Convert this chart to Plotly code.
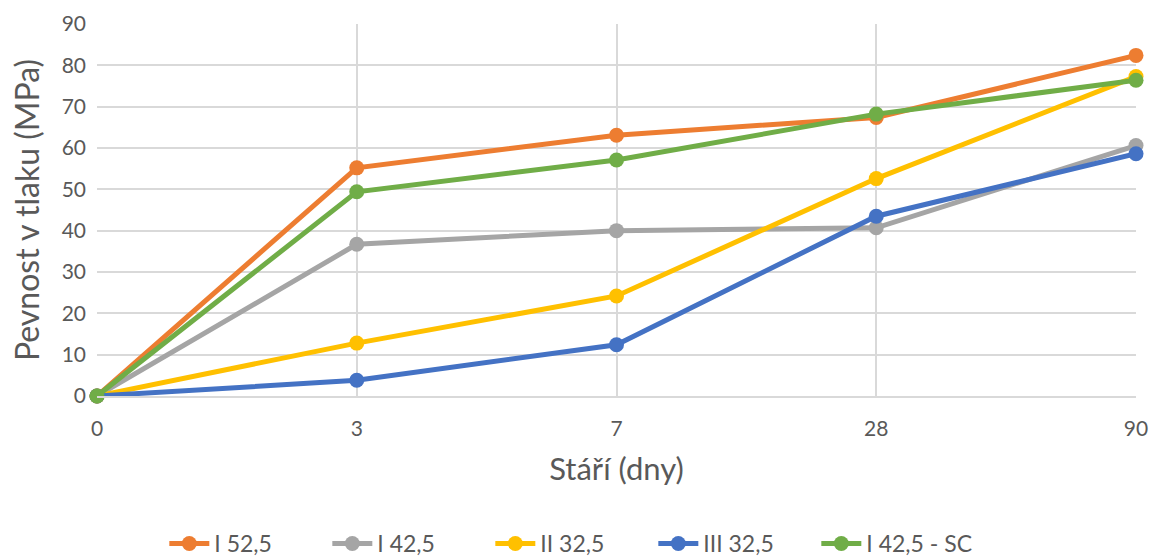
import plotly.graph_objects as go

categories = ["0", "3", "7", "28", "90"]
series_names = ["I 52,5", "I 42,5", "II 32,5", "III 32,5", "I 42,5 - SC"]
i_52_5 = [0, 55.2, 63.1, 67.4, 82.4]
i_42_5 = [0, 36.7, 40.0, 40.7, 60.6]
ii_32_5 = [0, 12.8, 24.2, 52.6, 77.3]
iii_32_5 = [0, 3.8, 12.4, 43.5, 58.6]
i_42_5_sc = [0, 49.4, 57.1, 68.2, 76.4]
colors = ["#ED7D31", "#A5A5A5", "#FFC000", "#4472C4", "#70AD47"]

values = [i_52_5, i_42_5, ii_32_5, iii_32_5, i_42_5_sc]

font_family = "Lato"
text_color = "#595959"

fig = go.Figure()
for name, vals, col in zip(series_names, values, colors):
    fig.add_trace(go.Scatter(
        x=categories, y=vals, name=name, mode="lines+markers",
        line=dict(color=col, width=5),
        marker=dict(color=col, size=15),
        cliponaxis=False,
    ))

fig.update_layout(
    width=1150, height=558,
    paper_bgcolor="white", plot_bgcolor="white",
    margin=dict(l=97, r=14, t=24, b=162),
    font=dict(family=font_family, color=text_color, size=21),
    showlegend=True,
    legend=dict(orientation="h", x=0.457, xanchor="center",
                yref="container", y=0.026, yanchor="middle",
                font=dict(size=23, color=text_color), itemwidth=40, entrywidth=108),
)
fig.update_xaxes(
    type="category", range=[0, 4], automargin=False,
    showgrid=True, gridcolor="#D9D9D9", gridwidth=1.5,
    showline=True, linecolor="#D9D9D9", linewidth=1.5,
    ticks="", tickfont=dict(size=21, color=text_color), ticklabelstandoff=13,
    title=dict(text="Stáří (dny)", font=dict(size=31, color=text_color), standoff=19),
    zeroline=False,
)
fig.update_yaxes(
    range=[0, 90], dtick=10, automargin=False,
    showgrid=True, gridcolor="#D9D9D9", gridwidth=1.5,
    showline=False, zeroline=False,
    ticks="", tickfont=dict(size=21, color=text_color), ticklabelstandoff=10,
    title=dict(text="Pevnost v tlaku (MPa)", font=dict(size=32, color=text_color), standoff=12),
)

fig.write_html("out.html", config={"displayModeBar": False},
               post_script="document.body.style.margin='0';")
